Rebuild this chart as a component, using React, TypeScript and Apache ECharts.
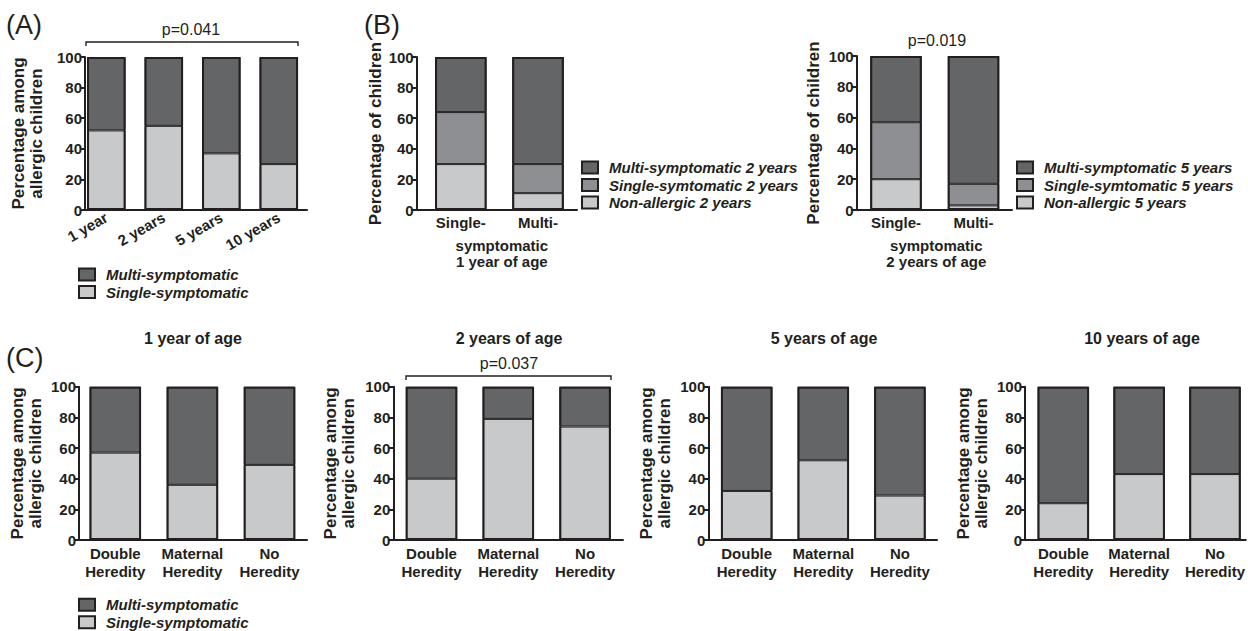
import { useEffect, useRef } from 'react';
import * as echarts from 'echarts';

const FONT = '"Liberation Sans", Arial, Helvetica, sans-serif';
const INK = '#231f20';
const DARK = '#646567';
const MID = '#8e8f92';
const LIGHT = '#c8c9cb';

// ---------- data ----------
const aCategories = ['1 year', '2 years', '5 years', '10 years'];
const aSingle = [52, 55, 37, 30];
const aMulti = [48, 45, 63, 70];

const bCategories = ['Single-', 'Multi-'];
const b1NonAllergic = [30, 11];
const b1Single = [34, 19];
const b1Multi = [36, 70];
const b2NonAllergic = [20, 3];
const b2Single = [37, 14];
const b2Multi = [43, 83];

const cCategories = ['Double\nHeredity', 'Maternal\nHeredity', 'No\nHeredity'];
const c1Single = [57, 36, 49];
const c1Multi = [43, 64, 51];
const c2Single = [40, 79, 74];
const c2Multi = [60, 21, 26];
const c3Single = [32, 52, 29];
const c3Multi = [68, 48, 71];
const c4Single = [24, 43, 43];
const c4Multi = [76, 57, 57];

const yTicks = [0, 20, 40, 60, 80, 100];

const MULTI = 'Multi-symptomatic';
const SINGLE = 'Single-symptomatic';

type S = { name: string; data: number[]; color: string };
type Panel = {
  key: string;
  cats: string[];
  series: S[];
  axisX: number;
  axisEnd: number;
  top: number;
  bottom: number;
  firstCenter: number;
  spacing: number;
  barWidth: number;
  yName: string;
  yGap: number;
  rotate?: number;
  xName?: string;
  xNamePad?: number;
  labelMargin: number;
};

const cSeries = (single: number[], multi: number[]): S[] => [
  { name: SINGLE, data: single, color: LIGHT },
  { name: MULTI, data: multi, color: DARK },
];

const panels: Panel[] = [
  {
    key: 'A', cats: aCategories, series: cSeries(aSingle, aMulti),
    axisX: 85, axisEnd: 307, top: 57, bottom: 210, firstCenter: 106.3, spacing: 57.5, barWidth: 38.5,
    yName: 'Percentage among\nallergic children', yGap: 40, rotate: 30, labelMargin: 6,
  },
  {
    key: 'B1', cats: bCategories,
    series: [
      { name: 'Non-allergic 2 years', data: b1NonAllergic, color: LIGHT },
      { name: 'Single-symtomatic 2 years', data: b1Single, color: MID },
      { name: 'Multi-symptomatic 2 years', data: b1Multi, color: DARK },
    ],
    axisX: 416.7, axisEnd: 577, top: 57, bottom: 210, firstCenter: 460.8, spacing: 77.2, barWidth: 51.5,
    yName: 'Percentage of children', yGap: 31, xName: 'symptomatic\n1 year of age', xNamePad: 10, labelMargin: 4,
  },
  {
    key: 'B2', cats: bCategories,
    series: [
      { name: 'Non-allergic 5 years', data: b2NonAllergic, color: LIGHT },
      { name: 'Single-symtomatic 5 years', data: b2Single, color: MID },
      { name: 'Multi-symptomatic 5 years', data: b2Multi, color: DARK },
    ],
    axisX: 856.7, axisEnd: 1012, top: 56, bottom: 210, firstCenter: 896, spacing: 77.5, barWidth: 51.5,
    yName: 'Percentage of children', yGap: 34, xName: 'symptomatic\n2 years of age', xNamePad: 4, labelMargin: 4,
  },
  {
    key: 'C1', cats: cCategories, series: cSeries(c1Single, c1Multi),
    axisX: 79, axisEnd: 307, top: 386.7, bottom: 540, firstCenter: 115.3, spacing: 77.1, barWidth: 51.5,
    yName: 'Percentage among\nallergic children', yGap: 35, labelMargin: 5,
  },
  {
    key: 'C2', cats: cCategories, series: cSeries(c2Single, c2Multi),
    axisX: 393.3, axisEnd: 623, top: 386.7, bottom: 540, firstCenter: 431.5, spacing: 76.8, barWidth: 51.5,
    yName: 'Percentage among\nallergic children', yGap: 36, labelMargin: 5,
  },
  {
    key: 'C3', cats: cCategories, series: cSeries(c3Single, c3Multi),
    axisX: 708.3, axisEnd: 937, top: 386.7, bottom: 540, firstCenter: 746.7, spacing: 76.6, barWidth: 51.5,
    yName: 'Percentage among\nallergic children', yGap: 35, labelMargin: 5,
  },
  {
    key: 'C4', cats: cCategories, series: cSeries(c4Single, c4Multi),
    axisX: 1025, axisEnd: 1248, top: 386.7, bottom: 540, firstCenter: 1063.7, spacing: 76.6, barWidth: 51.5,
    yName: 'Percentage among\nallergic children', yGap: 35, labelMargin: 5,
  },
];

const bold = { fontFamily: FONT, fontWeight: 'bold' as const, color: INK };

function buildOption() {
  const grid = panels.map((p) => ({
    left: p.axisX, top: p.top, width: p.axisEnd - p.axisX, height: p.bottom - p.top,
  }));
  const xAxis = panels.map((p, i) => ({
    type: 'value',
    gridIndex: i,
    min: -(p.firstCenter - p.axisX) / p.spacing,
    max: (p.axisEnd - p.firstCenter) / p.spacing,
    axisLine: { show: true, onZero: false, lineStyle: { color: INK, width: 2 } },
    axisTick: { show: false },
    splitLine: { show: false },
    axisLabel: {
      ...bold,
      fontSize: 15,
      lineHeight: 17.5,
      margin: p.labelMargin,
      rotate: p.rotate ?? 0,
      customValues: p.cats.map((_, k) => k),
      formatter: (v: number) => p.cats[Math.round(v)] ?? '',
    },
    name: p.xName ?? '',
    nameLocation: 'middle',
    nameGap: 27,
    nameTextStyle: { ...bold, fontSize: 15, lineHeight: 16, padding: [0, 0, 0, p.xNamePad ?? 0] },
  }));
  const yAxis = panels.map((p, i) => ({
    type: 'value',
    gridIndex: i,
    min: 0,
    max: 100,
    interval: 20,
    axisLine: { show: true, onZero: false, lineStyle: { color: INK, width: 2 } },
    axisTick: { show: true, length: 5, lineStyle: { color: INK, width: 2 }, customValues: yTicks },
    axisLabel: { ...bold, fontSize: 15, margin: 3, customValues: yTicks },
    splitLine: { show: false },
    name: p.yName,
    nameLocation: 'middle',
    nameGap: p.yGap,
    nameTextStyle: { ...bold, fontSize: 17, lineHeight: 18 },
  }));
  const series: any[] = [];
  panels.forEach((p, i) => {
    const common = {
      type: 'bar',
      xAxisIndex: i,
      yAxisIndex: i,
      barWidth: p.barWidth,
      barGap: '-100%',
      // percentage first so that it is the stacked dimension; position = category index
      dimensions: ['pct', 'pos'],
      encode: { x: 'pos', y: 'pct' },
      emphasis: { disabled: true },
      silent: true,
    };
    p.series.forEach((s) => {
      series.push({
        ...common,
        name: s.name,
        stack: p.key,
        data: s.data.map((v, k) => [v, k]),
        itemStyle: { color: s.color, borderColor: INK, borderWidth: 1 },
      });
    });
    // outer outline of each whole bar (total of its segments)
    const totals = p.cats.map((_, k) => p.series.reduce((acc, s) => acc + s.data[k], 0));
    series.push({
      ...common,
      name: 'outline-' + p.key,
      data: totals.map((v, k) => [v, k]),
      itemStyle: { color: 'rgba(0,0,0,0)', borderColor: INK, borderWidth: 2 },
    });
  });
  const legendCommon = {
    orient: 'vertical',
    icon: 'rect',
    itemWidth: 16,
    itemHeight: 12,
    itemGap: 2.5,
    padding: 0,
    height: 60,
    selectedMode: false,
    itemStyle: { borderColor: INK, borderWidth: 2 },
    textStyle: { ...bold, fontStyle: 'italic', fontSize: 15, lineHeight: 15, padding: [0, 0, 0, 6] },
  };
  const legend = [
    { ...legendCommon, data: [MULTI, SINGLE], left: 78, top: 267 },
    { ...legendCommon, data: [MULTI, SINGLE], left: 78, top: 597.3 },
    { ...legendCommon, data: ['Multi-symptomatic 2 years', 'Single-symtomatic 2 years', 'Non-allergic 2 years'], left: 581, top: 160 },
    { ...legendCommon, data: ['Multi-symptomatic 5 years', 'Single-symtomatic 5 years', 'Non-allergic 5 years'], left: 1016, top: 160 },
  ];
  const txt = (text: string, x: number, y: number, size: number, weight: string, align = 'center') => ({
    type: 'text',
    x,
    y,
    silent: true,
    style: { text, fontFamily: FONT, fontSize: size, fontWeight: weight, fill: INK, align, verticalAlign: 'middle' },
  });
  const bracket = (x1: number, x2: number, y: number) => ({
    type: 'polyline',
    silent: true,
    shape: { points: [[x1, y + 4], [x1, y], [x2, y], [x2, y + 4]] },
    style: { stroke: INK, lineWidth: 1.4, fill: 'none' },
  });
  const graphic = [
    txt('(A)', 6, 25, 27, 'normal', 'left'),
    txt('(B)', 364, 25, 27, 'normal', 'left'),
    txt('(C)', 6, 358, 27, 'normal', 'left'),
    txt('p=0.041', 191, 29, 16, 'normal'),
    bracket(86, 298, 42),
    txt('p=0.019', 937, 40, 16, 'normal'),
    txt('p=0.037', 509, 363, 16, 'normal'),
    bracket(406, 611, 376),
    txt('1 year of age', 193, 338, 16, 'bold'),
    txt('2 years of age', 509, 338, 16, 'bold'),
    txt('5 years of age', 824, 338, 16, 'bold'),
    txt('10 years of age', 1142, 338, 16, 'bold'),
  ];
  return {
    animation: false,
    backgroundColor: '#ffffff',
    textStyle: { fontFamily: FONT },
    grid,
    xAxis,
    yAxis,
    legend,
    series,
    graphic,
  };
}

export default function App() {
  const ref = useRef<HTMLDivElement>(null);
  useEffect(() => {
    if (!ref.current) return;
    const chart = echarts.init(ref.current, undefined, { renderer: 'svg' });
    chart.setOption(buildOption() as any);
    return () => chart.dispose();
  }, []);
  return (
    <div
      ref={ref}
      style={{ position: 'absolute', left: 0, top: 0, width: 1248, height: 631, background: '#fff' }}
    />
  );
}
